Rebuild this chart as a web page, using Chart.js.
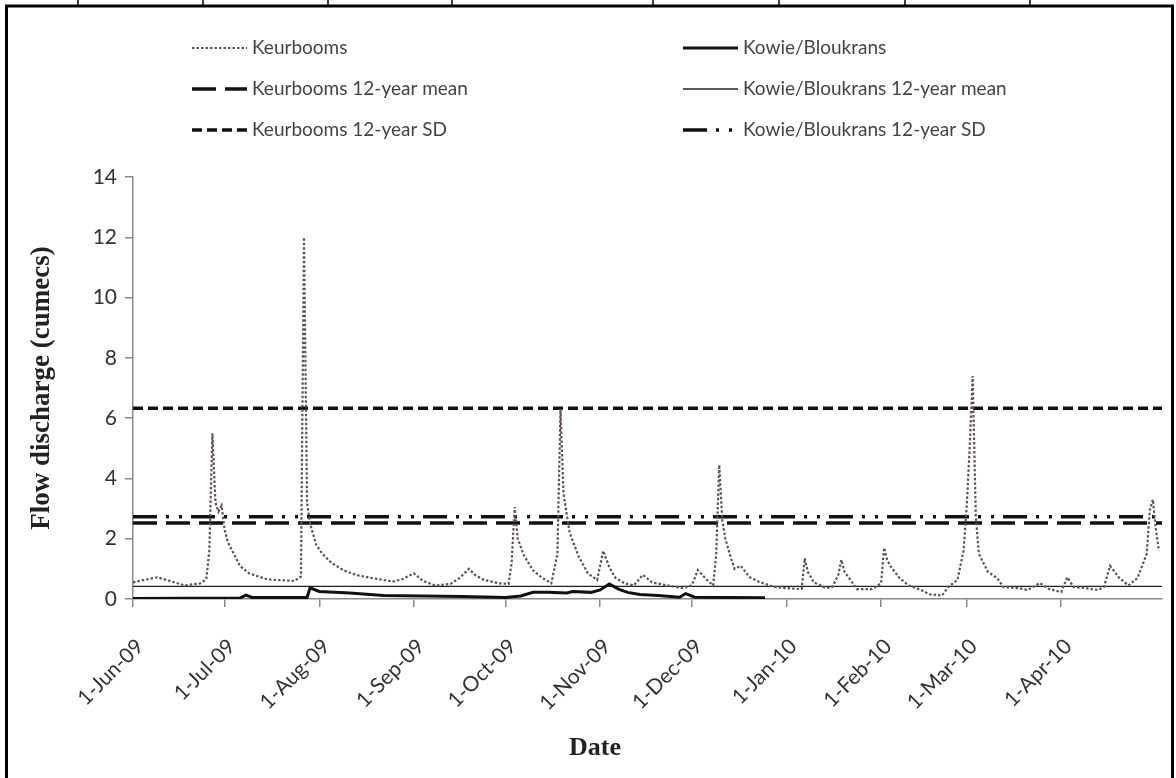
<!DOCTYPE html>
<html>
<head>
<meta charset="utf-8">
<script src="https://cdn.jsdelivr.net/npm/chart.js@4.4.0/dist/chart.umd.min.js"></script>
<style>
  html, body { margin: 0; padding: 0; background: #fff; }
</style>
</head>
<body>
<canvas id="flow_chart" width="1176" height="778"></canvas>
<script>
// x values are days counted from 1-Jun-09
const tick_days = [0, 30, 61, 92, 122, 153, 183, 214, 245, 273, 304];
const tick_labels = ["1-Jun-09", "1-Jul-09", "1-Aug-09", "1-Sep-09", "1-Oct-09", "1-Nov-09",
                     "1-Dec-09", "1-Jan-10", "1-Feb-10", "1-Mar-10", "1-Apr-10"];
const last_day = 337;

const keur_days = [0, 3, 8, 12, 17, 22, 24, 25, 26, 27, 28, 29, 30, 31, 33, 35, 38, 44, 53, 55,
                   56, 57, 58, 60, 62, 65, 69, 73, 78, 85, 88, 92, 95, 99, 104, 107, 110, 112, 115, 120,
                   123, 124, 125, 126, 128, 131, 134, 137, 139, 140, 141, 143, 146, 149, 152, 154, 156, 158, 161, 164,
                   167, 170, 176, 180, 183, 185, 188, 190, 191, 192, 193, 194, 196, 197, 199, 202, 205, 210, 214, 219,
                   220, 221, 223, 227, 229, 231, 232, 233, 235, 237, 242, 245, 246, 247, 248, 251, 254, 258, 261, 265,
                   267, 270, 272, 273, 274, 275, 276, 277, 280, 283, 285, 290, 293, 297, 300, 304, 306, 308, 312, 316,
                   318, 320, 323, 326, 329, 332, 333, 334, 335, 336];
const keur_flow = [0.55, 0.62, 0.72, 0.6, 0.45, 0.52, 0.65, 1.6, 5.5, 3.2, 2.9, 3.1, 2.3, 1.9, 1.5, 1.1, 0.85, 0.65, 0.6, 0.75,
                   12.0, 3.2, 2.5, 1.8, 1.5, 1.2, 0.95, 0.8, 0.7, 0.58, 0.65, 0.85, 0.6, 0.45, 0.5, 0.7, 1.0, 0.8, 0.63, 0.52,
                   0.5, 1.2, 3.05, 2.0, 1.45, 0.95, 0.7, 0.52, 1.5, 6.3, 3.5, 2.2, 1.4, 0.85, 0.63, 1.6, 1.05, 0.7, 0.52, 0.45,
                   0.8, 0.55, 0.43, 0.36, 0.45, 0.96, 0.63, 0.45, 1.5, 4.45, 2.6, 2.0, 1.3, 1.0, 1.1, 0.72, 0.57, 0.4, 0.36, 0.33,
                   1.35, 0.9, 0.55, 0.36, 0.4, 0.8, 1.3, 0.9, 0.63, 0.33, 0.33, 0.52, 1.7, 1.3, 1.1, 0.7, 0.45, 0.3, 0.15, 0.12,
                   0.4, 0.63, 1.6, 3.0, 5.0, 7.4, 2.8, 1.5, 0.9, 0.7, 0.4, 0.36, 0.3, 0.53, 0.33, 0.23, 0.72, 0.4, 0.36, 0.3,
                   0.4, 1.1, 0.7, 0.45, 0.7, 1.5, 2.95, 3.3, 2.3, 1.6];

const kowie_days = [0, 35, 37, 39, 57, 58, 61, 71, 82, 95, 108, 122, 127, 131, 136, 142, 144, 150, 153, 156,
                    159, 162, 166, 172, 179, 181, 184, 195, 207];
const kowie_flow = [0.02, 0.03, 0.13, 0.05, 0.05, 0.37, 0.25, 0.2, 0.12, 0.1, 0.08, 0.05, 0.1, 0.22, 0.22, 0.2, 0.25, 0.22, 0.3, 0.5,
                    0.33, 0.22, 0.15, 0.12, 0.06, 0.18, 0.06, 0.05, 0.04];

const keur_mean = 2.52;
const keur_sd = 6.33;
const kowie_mean = 0.42;
const kowie_sd = 2.73;

function to_points(days, values) {
    return days.map(function (d, i) { return {x: d, y: values[i]}; });
}
function flat_line(v) {
    return [{x: 0, y: v}, {x: last_day, y: v}];
}

let data_set = [];
data_set.push({label: "Keurbooms", data: to_points(keur_days, keur_flow),
               borderColor: "#5f5555", borderWidth: 2.2, borderDash: [2.5, 2]});
data_set.push({label: "Kowie/Bloukrans", data: to_points(kowie_days, kowie_flow),
               borderColor: "#111", borderWidth: 3});
data_set.push({label: "Keurbooms 12-year mean", data: flat_line(keur_mean),
               borderColor: "#111", borderWidth: 3.5, borderDash: [24, 9]});
data_set.push({label: "Kowie/Bloukrans 12-year mean", data: flat_line(kowie_mean),
               borderColor: "#222", borderWidth: 1.3});
data_set.push({label: "Keurbooms 12-year SD", data: flat_line(keur_sd),
               borderColor: "#111", borderWidth: 3.5, borderDash: [10, 5]});
data_set.push({label: "Kowie/Bloukrans 12-year SD", data: flat_line(kowie_sd),
               borderColor: "#111", borderWidth: 3.5, borderDash: [24, 9, 3, 10, 3, 9]});

// two-column legend drawn at the top of the canvas
const grid_legend = {
    id: "grid_legend",
    afterDraw(chart) {
        const ctx = chart.ctx;
        const cols = [192, 683];
        const rows = [48, 89, 130];
        ctx.save();
        ctx.font = "19px Lato";
        ctx.textBaseline = "middle";
        chart.data.datasets.forEach(function (ds, i) {
            const x = cols[i % 2];
            const y = rows[Math.floor(i / 2)];
            ctx.strokeStyle = ds.borderColor;
            ctx.lineWidth = ds.borderWidth;
            ctx.setLineDash(ds.borderDash || []);
            ctx.beginPath();
            ctx.moveTo(x, y);
            ctx.lineTo(x + 55, y);
            ctx.stroke();
            ctx.fillStyle = "#444";
            ctx.fillText(ds.label, x + 60, y);
        });
        ctx.restore();
    }
};

// black frame of the figure, and the x title sitting a bit left of centre
const figure_frame = {
    id: "figure_frame",
    afterDraw(chart) {
        const ctx = chart.ctx;
        ctx.save();
        ctx.strokeStyle = "#000";
        ctx.lineWidth = 3;
        ctx.beginPath();
        ctx.moveTo(6.5, 800);
        ctx.lineTo(6.5, 6);
        ctx.lineTo(1172.5, 6);
        ctx.lineTo(1172.5, 800);
        ctx.stroke();
        ctx.lineWidth = 1.5;
        [78, 203, 328, 452, 653, 779, 905, 1030].forEach(function (x) {
            ctx.beginPath();
            ctx.moveTo(x, 0);
            ctx.lineTo(x, 5);
            ctx.stroke();
        });
        ctx.fillStyle = "#222";
        ctx.font = "bold 26px 'Liberation Serif'";
        ctx.textAlign = "center";
        ctx.textBaseline = "middle";
        ctx.fillText("Date", 595, 748);
        ctx.restore();
    }
};

const axis_grid = {display: true, drawOnChartArea: false, drawTicks: true, tickLength: 8, color: "#8a8a8a", lineWidth: 1.5};
const axis_border = {display: true, color: "#8a8a8a", width: 1.5};

let ctx = document.getElementById("flow_chart").getContext("2d");
new Chart(ctx, {
    type: "line",
    data: {datasets: data_set},
    options: {
        responsive: false,
        animation: false,
        elements: {point: {radius: 0}, line: {tension: 0, fill: false}},
        layout: {padding: {left: 26, top: 177, right: 14, bottom: 14}},
        plugins: {legend: {display: false}, tooltip: {enabled: false}},
        scales: {
            x: {
                type: "linear",
                min: 0,
                max: last_day,
                afterBuildTicks: function (scale) {
                    scale.ticks = tick_days.map(function (d) { return {value: d}; });
                },
                afterFit: function (scale) { scale.height = 165; },
                ticks: {
                    autoSkip: false,
                    minRotation: 45,
                    maxRotation: 45,
                    padding: 27,
                    labelOffset: 7,
                    color: "#333",
                    font: {family: "Lato", size: 21},
                    callback: function (value, index) { return tick_labels[index]; }
                },
                grid: axis_grid,
                border: axis_border,
                title: {display: false, text: "Date"}
            },
            y: {
                min: 0,
                max: 14,
                afterFit: function (scale) { scale.width = 107; },
                ticks: {stepSize: 2, padding: 8, color: "#333", font: {family: "Lato", size: 21}},
                grid: axis_grid,
                border: axis_border,
                title: {display: true, text: "Flow discharge (cumecs)", color: "#222",
                        font: {family: "Liberation Serif", size: 27, weight: "bold"}, padding: 0}
            }
        }
    },
    plugins: [grid_legend, figure_frame]
});
</script>
</body>
</html>
